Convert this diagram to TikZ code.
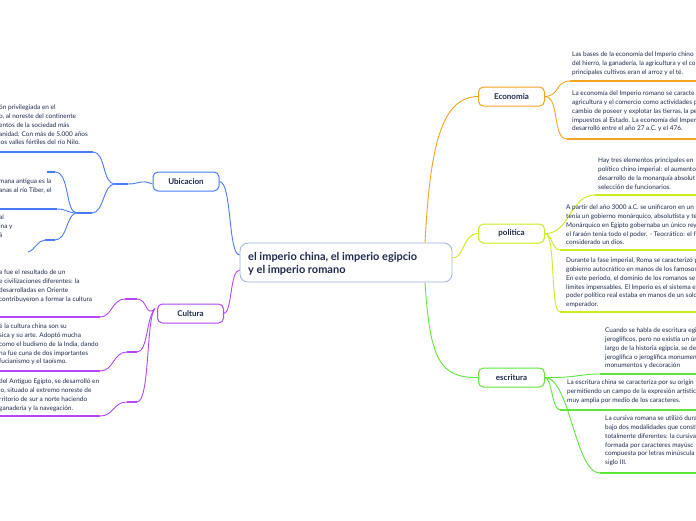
\documentclass[tikz,border=0pt]{standalone}
\usepackage{fontspec}
\setmainfont{Lato}
\definecolor{ink}{HTML}{1F2B4D}
\definecolor{cblue}{HTML}{4A7BF7}
\definecolor{cpurp}{HTML}{B347F5}
\definecolor{corng}{HTML}{F5A31F}
\definecolor{cyel}{HTML}{CDEB1E}
\definecolor{cgrn}{HTML}{5FE63A}
\definecolor{cbord}{HTML}{9DB3DE}
\begin{document}
\begin{tikzpicture}[x=1pt,y=-1pt,
  txt/.style={font=\fontsize{6.45}{8.7}\selectfont, text=ink, align=left, inner sep=0pt, anchor=north west},
  topic/.style={draw=#1, line width=1pt, rounded corners=5pt, fill=white, minimum width=66pt, minimum height=19pt, font=\fontsize{8}{9}\selectfont\bfseries, text=ink, inner sep=0pt},
  conn/.style={draw=#1, line width=0.9pt},
  uline/.style={draw=#1, line width=2pt},
  knot/.style={draw=#1, line width=2.2pt},
]
\useasboundingbox (0,0) rectangle (696,520);
\clip (0,0) rectangle (696,520);
\fill[white] (0,0) rectangle (696,520);

% central
\node[draw=cbord, line width=0.8pt, rounded corners=8pt, fill=white, minimum width=212pt, minimum height=39pt, inner sep=0pt] (c) at (346,262.5) {};
\node[font=\fontsize{11}{13}\selectfont\bfseries, text=ink, align=left, anchor=west, inner sep=0pt] (ct) at (248,264) {el imperio china, el imperio egipcio\\y el imperio romano};

% topics
\node[topic=cblue] (ubic) at (186,181.5) {Ubicacion};
\node[topic=cpurp] (cult) at (190.5,313.5) {Cultura};
\node[topic=corng] (econ) at (511.5,96.5) {Economia};
\node[topic=cyel] (poli) at (511.5,233.5) {politica};
\node[topic=cgrn] (escr) at (511.5,377.5) {escritura};
\coordinate (uhub) at ([yshift=-2.5pt]ubic.west);
\coordinate (khub) at ([yshift=5pt, xshift=-2pt]cult.west);

% main connectors
\draw[conn=cblue] (ubic.east) .. controls (232,182) and (228,255) .. (c.west |- 0,255);
\draw[conn=cpurp] (cult.east) .. controls (232,313) and (230,270) .. (c.west |- 0,270);
\draw[conn=corng] (c.north -| 425,0) .. controls (430,150) and (440,97) .. (econ.west);
\draw[conn=cyel] (c.east |- 0,258) .. controls (465,258) and (462,234) .. (poli.west);
\draw[conn=cgrn] (c.south -| 425,0) .. controls (430,360) and (440,378) .. (escr.west);

% ---------- Ubicacion ----------
\node[txt] (u1) at (-1,105) {ón privilegiada en el\\o, al noreste del continente\\entos de la sociedad más\\anidad. Con más de 5.000 años\\los valles fértiles del río Nilo.};
\coordinate (u1a) at (0,152); \coordinate (u1b) at (93,152);
\draw[uline=cblue] (u1a) -- (u1b);
\coordinate (uk1) at (115,184); \coordinate (uk2) at (128,184);
\draw[knot=cblue] (uk1) -- (uk2);
\draw[conn=cblue] (u1b) .. controls (106,152) and (102,184) .. (uk1);
\draw[conn=cblue] (uk2) .. controls (140,184) and (140,179) .. (uhub);
\node[txt] (u2) at (-1,179) {mana antigua es la\\anas al río Tíber, el};
\coordinate (u2a) at (0,209); \coordinate (u2b) at (57,209);
\draw[uline=cblue] (u2a) -- (u2b);
\coordinate (uk3) at (77,213); \coordinate (uk4) at (92,213);
\draw[knot=cblue] (uk3) -- (uk4);
\draw[conn=cblue] (u2b) .. controls (67,209) and (67,213) .. (uk3);
\draw[conn=cblue] (uk4) .. controls (104,213) and (103,184) .. (uk1);
\coordinate (uk5) at (47,172); \coordinate (uk6) at (55,172);
\draw[knot=cblue] (uk5) -- (uk6);
\draw[conn=cblue] (uk6) .. controls (70,172) and (65,213) .. (uk3);
\node[txt] (u3) at (-1,215) {al\\ina y\\á};
\coordinate (uk7) at (45,240); \coordinate (uk8) at (55,240);
\draw[knot=cblue] (uk7) -- (uk8);
\draw[conn=cblue] (uk8) .. controls (68,240) and (66,213) .. (uk3);
\coordinate (u3e) at (28,252);
\draw[conn=cblue] (uk7) .. controls (38,240) and (35,250) .. (u3e);

% ---------- Cultura ----------
\node[txt] (k1) at (-1,270) {a fue el resultado de un\\e civilizaciones diferentes: la\\desarrolladas en Oriente\\contribuyeron a formar la cultura};
\coordinate (k1a) at (0,317); \coordinate (k1b) at (100,317);
\draw[uline=cpurp] (k1a) -- (k1b);
\coordinate (kk1) at (125,299); \coordinate (kk2) at (137,299);
\draw[knot=cpurp] (kk1) -- (kk2);
\draw[conn=cpurp] (k1b) .. controls (112,317) and (112,299) .. (kk1);
\draw[conn=cpurp] (kk2) .. controls (148,299) and (145,318) .. (khub);

\node[txt] (k2) at (-1,324) {é la cultura china son su\\sica y su arte. Adoptó mucha\\como el budismo de la India, dando\\na fue cuna de dos importantes\\fucianismo y el taoísmo.};
\coordinate (k2a) at (0,371); \coordinate (k2b) at (100,371);
\draw[uline=cpurp] (k2a) -- (k2b);
\coordinate (kk3) at (127,352); \coordinate (kk4) at (137,352);
\draw[knot=cpurp] (kk3) -- (kk4);
\draw[conn=cpurp] (k2b) .. controls (114,371) and (113,352) .. (kk3);
\draw[conn=cpurp] (kk4) .. controls (148,352) and (146,318) .. (khub);

\node[txt] (k3) at (-1,379) {del Antiguo Egipto, se desarrolló en\\lo, situado al extremo noreste de\\rritorio de sur a norte haciendo\\ganadería y la navegación.};
\coordinate (k3a) at (0,416); \coordinate (k3b) at (100,416);
\draw[uline=cpurp] (k3a) -- (k3b);
\coordinate (kk5) at (127,402); \coordinate (kk6) at (137,402);
\draw[knot=cpurp] (kk5) -- (kk6);
\draw[conn=cpurp] (k3b) .. controls (114,416) and (113,402) .. (kk5);
\draw[conn=cpurp] (kk6) .. controls (150,402) and (146,318) .. (khub);

% ---------- Economia ----------
\node[txt] (e1) at (572,52) {Las bases de la economía del Imperio chino\\del hierro, la ganadería, la agricultura y el co\\principales cultivos eran el arroz y el té.};
\coordinate (e1a) at (570,81); \coordinate (e1b) at (696,81);
\draw[uline=corng] (e1a) -- (e1b);
\draw[conn=corng] (econ.east) .. controls (560,96) and (555,81) .. (e1a);
\node[txt] (e2) at (572,91) {La economía del Imperio romano se caracte\\agricultura y el comercio como actividades p\\cambio de poseer y explotar las tierras, la pe\\impuestos al Estado. La economía del Imper\\desarrolló entre el año 27 a.C. y el 476.};
\coordinate (e2a) at (567,139); \coordinate (e2b) at (696,139);
\draw[uline=corng] (e2a) -- (e2b);
\draw[conn=corng] (econ.east) .. controls (560,97) and (552,139) .. (e2a);

% ---------- politica ----------
\node[txt] (p1) at (598,158) {Hay tres elementos principales en\\político chino imperial: el aumento\\desarrollo de la monarquía absolut\\selección de funcionarios.};
\coordinate (p1a) at (595,195); \coordinate (p1b) at (696,195);
\draw[uline=cyel] (p1a) -- (p1b);
\draw[conn=cyel] (poli.east) .. controls (570,234) and (570,195) .. (p1a);
\node[txt] (p2) at (566,205) {A partir del año 3000 a.C. se unificaron en un so\\tenía un gobierno monárquico, absolutista y teo\\Monárquico en Egipto gobernaba un único rey.\\el faraón tenía todo el poder. - Teocrático: el far\\considerado un dios.};
\coordinate (p2a) at (560,250); \coordinate (p2b) at (696,250);
\draw[uline=cyel] (p2a) -- (p2b);
\draw[conn=cyel] (poli.east) .. controls (552,234) and (552,250) .. (p2a);
\node[txt] (p3) at (566,258) {Durante la fase imperial, Roma se caracterizó p\\gobierno autocrático en manos de los famosos\\En este periodo, el dominio de los romanos se e\\límites impensables. El Imperio es el sistema en\\poder político real estaba en manos de un solo i\\emperador.};
\coordinate (p3a) at (560,312); \coordinate (p3b) at (696,312);
\draw[uline=cyel] (p3a) -- (p3b);
\draw[conn=cyel] (poli.east) .. controls (556,234) and (550,312) .. (p3a);

% ---------- escritura ----------
\node[txt] (s1) at (605,328) {Cuando se habla de escritura egi\\jeroglíficos, pero no existía un ún\\largo de la historia egipcia, se de\\jeroglífica o jeroglífica monumen\\monumentos y decoración};
\coordinate (s1a) at (600,374); \coordinate (s1b) at (696,374);
\draw[uline=cgrn] (s1a) -- (s1b);
\draw[conn=cgrn] (escr.east) .. controls (575,378) and (580,374) .. (s1a);
\node[txt] (s2) at (567,380) {La escritura china se caracteriza por su origin\\permitiendo un campo de la expresión artístic\\muy amplia por medio de los caracteres.};
\coordinate (s2a) at (560,410); \coordinate (s2b) at (696,410);
\draw[uline=cgrn] (s2a) -- (s2b);
\draw[conn=cgrn] (escr.east) .. controls (552,378) and (552,410) .. (s2a);
\node[txt] (s3) at (605,416) {La cursiva romana se utilizó dura\\bajo dos modalidades que consti\\totalmente diferentes: la cursiva\\formada por caracteres mayúsc\\compuesta por letras minúscula\\siglo III.};
\coordinate (s3a) at (600,473); \coordinate (s3b) at (696,473);
\draw[uline=cgrn] (s3a) -- (s3b);
\draw[conn=cgrn] (escr.east) .. controls (570,378) and (575,473) .. (s3a);
\end{tikzpicture}
\end{document}
